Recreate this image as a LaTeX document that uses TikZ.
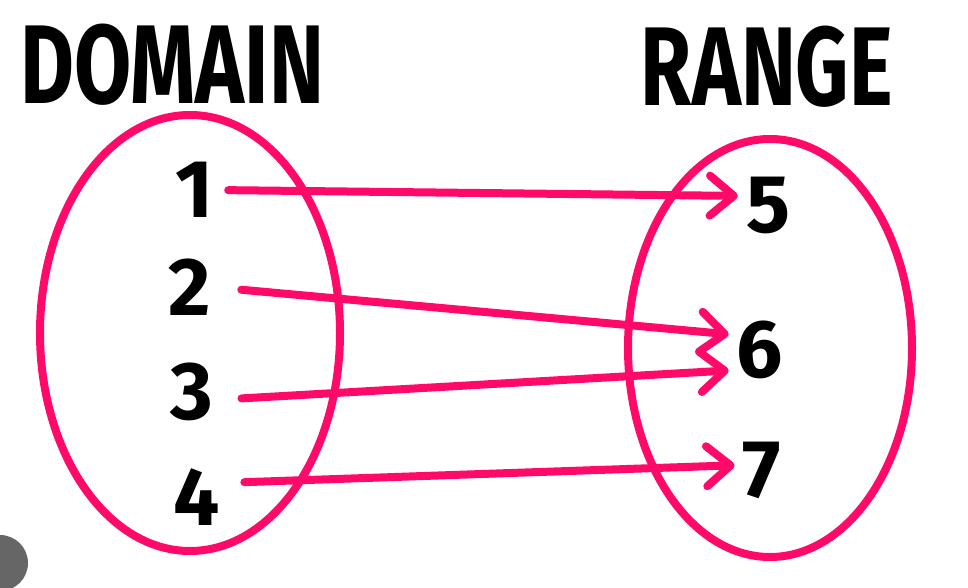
\documentclass[tikz,border=0pt]{standalone}
\usepackage{fontspec}
\setmainfont{Fira Sans}
\usetikzlibrary{arrows.meta}
\definecolor{mappink}{RGB}{255,10,105}
\definecolor{badgegray}{RGB}{102,102,102}

\begin{document}
\begin{tikzpicture}[x=1pt,y=-1pt,
  num/.style={font=\fontsize{82}{86}\selectfont\bfseries, inner sep=0pt},
  head/.style={font=\fontsize{112}{120}\selectfont\bfseries, inner sep=0pt},
  mapsto/.style={mappink, line width=8pt, line cap=round, shorten <=14pt, shorten >=8pt,
    -{Straight Barb[length=24pt,width=40pt,line cap=round,line join=round]}}]

\useasboundingbox (0,0) rectangle (968,588);
\fill[white] (0,0) rectangle (968,588);

\node[head] (dom) at (172,65) {\scalebox{0.74}[1]{DOMAIN}};
\node[head] (ran) at (767,67) {\scalebox{0.74}[1]{RANGE}};

\begin{scope}[mappink, line width=8pt]
\draw (190,333) ellipse [x radius=150, y radius=218];
\draw (770,348) ellipse [x radius=142, y radius=209];
\end{scope}

\node[num] (d1) at (195,190) {1};
\node[num] (d2) at (190,287) {2};
\node[num] (d3) at (192,392) {3};
\node[num] (d4) at (197,497) {4};

\node[num] (r5) at (768,205) {5};
\node[num] (r6) at (760,350) {6};
\node[num] (r7) at (762,470) {7};

\draw[mapsto] (d1.east) -- ([yshift=9pt]r5.west);
\draw[mapsto, shorten <=30pt] (d2.east) -- ([yshift=15pt]r6.west);
\draw[mapsto, shorten <=28pt] ([yshift=-8pt]d3.east) -- ([yshift=-20pt]r6.west);
\draw[mapsto, shorten <=24pt] ([yshift=14pt]d4.east) -- ([yshift=5pt]r7.west);

\fill[badgegray] (0,563) circle [radius=28];
\end{tikzpicture}
\end{document}
